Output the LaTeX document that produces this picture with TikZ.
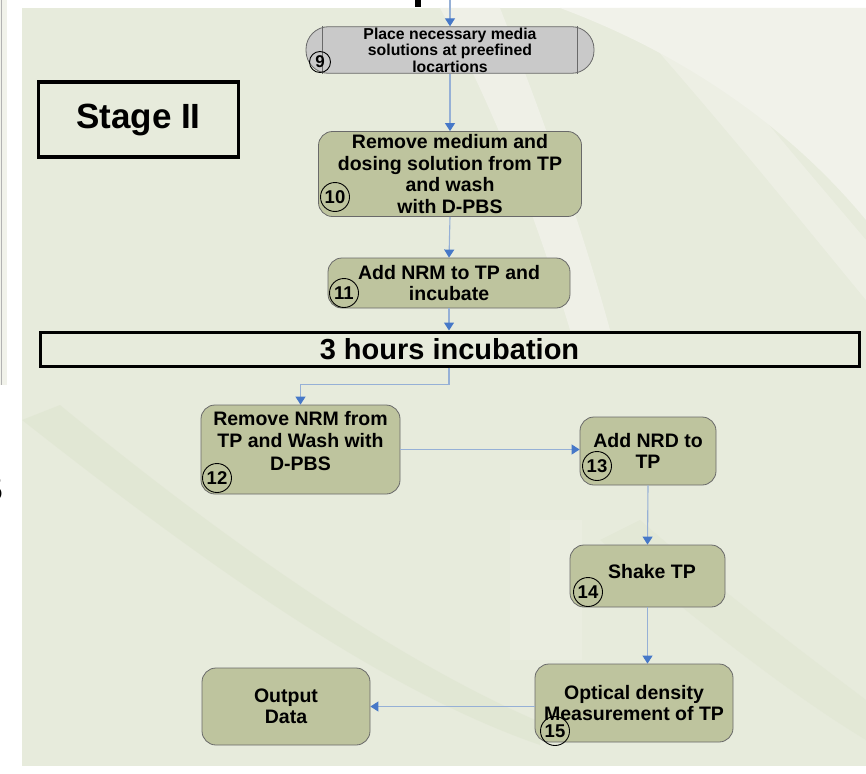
\documentclass[tikz,border=0pt]{standalone}
\usepackage{fontspec}
\setmainfont{Liberation Sans}
\usetikzlibrary{arrows.meta}
\definecolor{bgbase}{RGB}{231,235,220}
\definecolor{bglight}{RGB}{241,242,234}
\definecolor{bgdark}{RGB}{221,228,206}
\definecolor{olivefill}{RGB}{190,196,158}
\definecolor{greyfill}{RGB}{201,201,201}
\definecolor{boxline}{RGB}{105,105,105}
\definecolor{lineblue}{RGB}{150,176,214}
\definecolor{tipblue}{RGB}{70,120,200}
\begin{document}
\begin{tikzpicture}[x=1pt,y=-1pt,
  box/.style={draw=boxline, fill=olivefill, rounded corners=14pt, line width=0.8pt,
    align=center, font=\bfseries\fontsize{19.5}{21.5}\selectfont, inner sep=2pt},
  boxtext/.style={align=center, font=\bfseries\fontsize{19.5}{22.5}\selectfont, inner sep=0pt},
  pill/.style={draw=boxline, fill=greyfill, rounded corners=22.5pt, line width=0.8pt,
    align=center, font=\bfseries\fontsize{15.8}{16.5}\selectfont, inner sep=1pt},
  frame/.style={draw=black, line width=3.5pt, fill=none, align=center, font=\bfseries},
  num/.style={draw=black, circle, line width=0.9pt, inner sep=0.5pt, minimum size=29pt,
    font=\bfseries\fontsize{18.5}{18.5}\selectfont},
  conn/.style={draw=lineblue, line width=1.1pt, -{Triangle[width=10pt,length=8pt,color=tipblue]}}
]
\useasboundingbox (0,0) rectangle (866,773);
% page background
\fill[white] (0,0) rectangle (866,773);
\fill[bgbase] (22,8) rectangle (866,766);
% soft background swooshes
\fill[bglight] (560,8) .. controls (700,60) and (800,140) .. (866,220) -- (866,8) -- cycle;
\fill[bglight, opacity=0.8] (440,8) .. controls (500,120) and (540,230) .. (570,330)
   -- (610,330) .. controls (580,220) and (540,110) .. (500,8) -- cycle;
\fill[bglight, opacity=0.6] (620,8) .. controls (720,120) and (800,220) .. (866,300) -- (866,240) .. controls (790,150) and (720,70) .. (680,8) -- cycle;
\fill[bgdark, opacity=0.5] (22,420) .. controls (200,560) and (380,690) .. (540,745)
   -- (540,722) .. controls (400,662) and (230,545) .. (60,405) -- cycle;
\fill[bglight, opacity=0.3] (510,520) rectangle (582,660);
\fill[bgdark, opacity=0.4] (600,540) .. controls (720,640) and (800,700) .. (866,740) -- (866,700) .. controls (800,650) and (720,590) .. (640,520) -- cycle;
% left strip and fragments of the slide
\fill[bglight] (0,0) rectangle (7,385);
\draw[gray!60, line width=1pt] (1,0) -- (1,385);
\fill[black] (415,0) rectangle (421,7);
\node[font=\fontsize{30}{30}\selectfont, anchor=east, inner sep=0pt] (frag) at (3,490) {5};

% title boxes
\node[frame, minimum width=200pt, minimum height=75pt, font=\bfseries\fontsize{35}{35}\selectfont] (stage) at (138.5,119.5) {Stage II};
\node[frame, line width=3pt, minimum width=819pt, minimum height=34pt, font=\bfseries\fontsize{29}{29}\selectfont] (inc) at (449.5,349) {3 hours incubation};

% process boxes
\node[pill, minimum width=288pt, minimum height=46pt] (n9) at (450,50) {Place necessary media\\ solutions at preefined\\ locartions};
\draw[boxline, line width=0.8pt] ([xshift=17pt]n9.north west) -- ([xshift=17pt]n9.south west);
\draw[boxline, line width=0.8pt] ([xshift=-17pt]n9.north east) -- ([xshift=-17pt]n9.south east);
\node[box, minimum width=263pt, minimum height=85pt] (n10) at (450,174) {Remove medium and\\ dosing solution from TP\\ and wash\\ with D-PBS};
\node[box, minimum width=242pt, minimum height=50pt] (n11) at (449,283) {Add NRM to TP and\\ incubate};
\node[box, minimum width=199pt, minimum height=89pt] (n12) at (300.5,449.5) {};
\node[boxtext] (t12) at (300.5,441) {Remove NRM from\\ TP and Wash with\\ D-PBS};
\node[box, minimum width=136pt, minimum height=68pt] (n13) at (648,451) {Add NRD to\\ TP};
\node[box, minimum width=155pt, minimum height=62pt] (n14) at (647.5,576) {};
\node[boxtext] (t14) at (652,572) {Shake TP};
\node[box, minimum width=198pt, minimum height=78pt] (n15) at (634,703) {Optical density\\ Measurement of TP};
\node[box, minimum width=168pt, minimum height=77pt] (out) at (286,706.5) {Output\\ Data};

% step numbers
\node[num, minimum size=21pt, font=\bfseries\fontsize{17}{17}\selectfont] (c9) at (320,62) {9};
\node[num] (c10) at (335,197) {10};
\node[num] (c11) at (344,293) {11};
\node[num] (c12) at (217,478) {12};
\node[num] (c13) at (597,466) {13};
\node[num] (c14) at (588,592) {14};
\node[num] (c15) at (555,731) {15};

% connectors
\coordinate (top) at (n9.north |- 0,0);
\draw[conn] (top) -- (n9.north);
\draw[conn] (n9.south) -- (n10.north);
\draw[conn] (n10.south) -- (n11.north);
\draw[conn] (n11.south) -- (inc.north -| n11.south);
\draw[conn] (inc.south -| n11.south) -- ++(0,17) -| (n12.north);
\draw[conn] (n12.east) -- (n12.east -| n13.west);
\draw[conn] (n13.south) -- (n14.north);
\draw[conn] (n14.south) -- (n15.north -| n14.south);
\draw[conn] (out.east -| n15.west) -- (out.east);
\end{tikzpicture}
\end{document}
